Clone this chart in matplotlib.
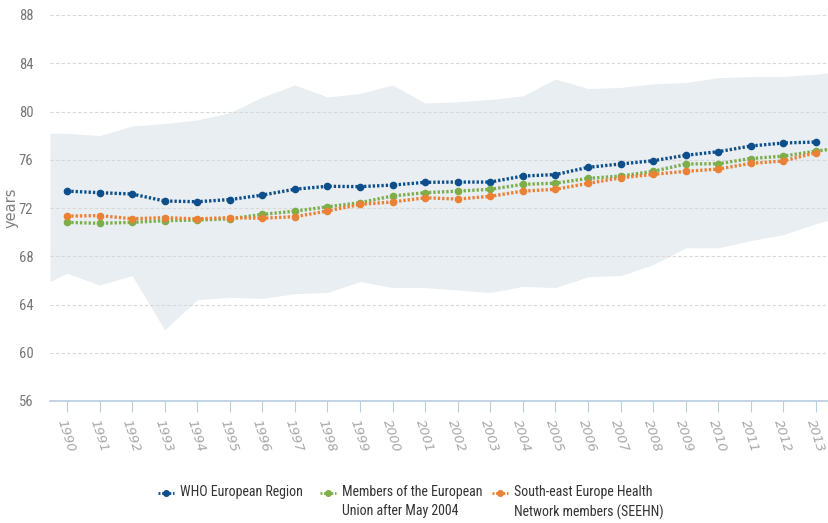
import matplotlib
matplotlib.use('Agg')
from matplotlib import pyplot as plt
from matplotlib.lines import Line2D
import numpy as np

plt.rcParams['font.family'] = ['Roboto Condensed', 'Open Sans Condensed', 'Liberation Sans Narrow', 'DejaVu Sans']
plt.rcParams['font.stretch'] = 'condensed'

years = np.arange(1990, 2014)

who = [73.4, 73.27, 73.16, 72.58, 72.52, 72.7, 73.07, 73.56, 73.8, 73.77, 73.9, 74.13,
       74.15, 74.15, 74.65, 74.77, 75.37, 75.65, 75.92, 76.37, 76.67, 77.14, 77.39, 77.47]
eu = [70.81, 70.73, 70.81, 70.95, 71.0, 71.1, 71.47, 71.74, 72.1, 72.44, 73.0, 73.27,
      73.4, 73.55, 73.96, 74.06, 74.45, 74.65, 75.04, 75.65, 75.67, 76.1, 76.3, 76.72]
eu_2014 = 77.07
seehn = [71.33, 71.37, 71.11, 71.2, 71.1, 71.2, 71.15, 71.28, 71.75, 72.3, 72.5, 72.85,
         72.74, 72.97, 73.4, 73.55, 74.04, 74.5, 74.79, 75.04, 75.23, 75.7, 75.9, 76.58]

# min / max envelope of the region (drawn as a band)
band_x = [1989.48] + list(years) + [2013.4]
band_lo = [65.9, 66.6, 65.6, 66.4, 61.9, 64.4, 64.6, 64.5, 64.9, 65.0, 65.9, 65.4, 65.4,
           65.2, 65.0, 65.5, 65.4, 66.3, 66.4, 67.3, 68.7, 68.7, 69.3, 69.8, 70.7, 71.0]
band_hi = [78.2, 78.2, 78.0, 78.8, 79.0, 79.3, 79.9, 81.2, 82.2, 81.2, 81.5, 82.2, 80.7,
           80.8, 81.0, 81.3, 82.7, 81.9, 82.0, 82.3, 82.4, 82.8, 82.9, 82.9, 83.1, 83.2]

labels = ['WHO European Region', 'Members of the European\nUnion after May 2004',
          'South-east Europe Health\nNetwork members (SEEHN)']
cols = ['#0d4f8b', '#7dae4a', '#ea8135']

fig = plt.figure(figsize=(8.29, 5.23), dpi=100)
ax = fig.add_axes([50/829, 1-401/523, 779/829, 386/523])

ax.fill_between(band_x, band_lo, band_hi, color='#e9eef3', lw=0, zorder=0)
for v in range(60, 89, 4):
    ax.axhline(v, color='#d8d8d8', lw=0.8, ls=(0, (3, 2)), zorder=1)

for ys, c, lab in [(who, cols[0], labels[0]), (eu, cols[1], labels[1]), (seehn, cols[2], labels[2])]:
    xx = list(years)
    yy = list(ys)
    if lab == labels[1]:
        xx.append(2014)
        yy.append(eu_2014)
    ax.plot(xx, yy, color=c, lw=2.4, ls=(0, (0.7, 0.6)), marker='o', ms=4.5,
            markevery=list(range(24)), zorder=3, label=lab)

ax.set_xlim(1989.48, 2013.4)
ax.set_ylim(56, 88)
ax.set_yticks(range(56, 89, 4))
ax.set_xticks(years)
ax.set_xticklabels([str(y) for y in years], rotation=-72, ha='left', va='top',
                   rotation_mode='anchor', color='#a8a8a8', fontsize=9.5, style='italic',
                   family=['DejaVu Sans'], fontstretch='normal')
ax.tick_params(axis='y', length=0, labelsize=10.5, labelcolor='#777777', pad=12)
ax.tick_params(axis='x', length=8, color='#b7cde0', width=0.8, pad=4)
for s in ['top', 'right', 'left']:
    ax.spines[s].set_visible(False)
ax.spines['bottom'].set_color('#b7cde0')
ax.spines['bottom'].set_linewidth(1.2)
ax.set_ylabel('years', color='#808080', fontsize=10.5, family=['DejaVu Sans'], fontstretch='normal')
ax.yaxis.set_label_coords(-0.04, 0.5)

# legend drawn by hand so the one-line label sits on the first line of the others
leg_x = [158, 320, 492]
leg_y = 1 - 493/523
for x0, c, lab in zip(leg_x, cols, labels):
    fig.add_artist(Line2D([x0/829, (x0+16)/829], [leg_y, leg_y], transform=fig.transFigure,
                          color=c, lw=2, ls=(0, (0.7, 0.6))))
    fig.add_artist(Line2D([(x0+8)/829], [leg_y], transform=fig.transFigure,
                          color=c, marker='o', ms=4, ls='none'))
    fig.text((x0+22)/829, 1-485/523, lab, va='top', ha='left', fontsize=10,
             color='#333333', linespacing=1.45)

fig.savefig('out.png', dpi=100)
